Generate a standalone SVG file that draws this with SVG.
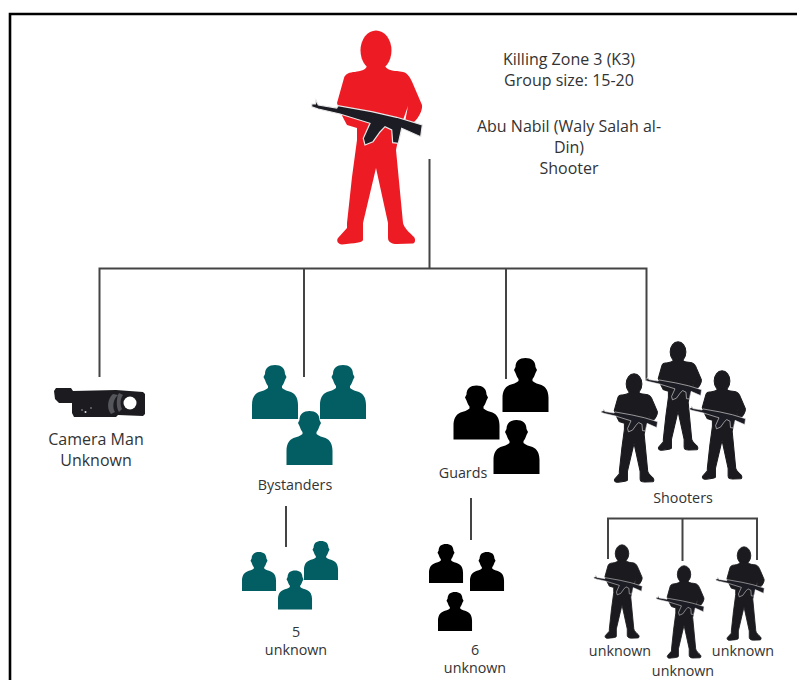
<svg xmlns="http://www.w3.org/2000/svg" xmlns:xlink="http://www.w3.org/1999/xlink" width="797" height="680" viewBox="0 0 797 680">
<style>
.t{font-family:"Open Sans","Noto Sans","Liberation Sans",sans-serif;fill:#333;stroke:none;text-anchor:middle}
.f14{font-size:16px}
.f13{font-size:14.300px}
.c{fill:none;stroke:#444;stroke-width:2}
.teal{fill:#025e63}
.blk{fill:#000}
.dark{fill:#1b1b1f;stroke:#1b1b1f;stroke-width:2}
.gun{fill:#1c1c24;stroke:#e8e8e8;stroke-width:1.200}
</style>
<defs>
<path id="bust" d="M23 0C29 0 33 3 33 9L34.500 12L33 15C32 18 31 20 30 21L30 23C32 25 36 26 39 27C44 29 46 34 46 40L46 54L0 54L0 40C0 34 2 29 7 27C10 26 14 25 16 23L16 21C15 20 14 18 13 15L11.500 12L13 9C13 3 17 0 23 0Z"/>
<g id="rifleman">
<ellipse cx="376" cy="50.500" rx="15.500" ry="20"/>
<path d="M367 66L385 66C386 69 392 71 397 71L403 72C408 73 411 79 413 84L422 105C423 110 418 119 414 122L405 122L408 106L403 120L400 130L396 150L403 223C404 228 410 233 414 237C416 240 415 243 413 243.500L397 244C392 244 388 242 388 238L388 223L376 168L363 223L363 240C362 243 355 243 342 244.500C338 244 336 241 338 238L347 228L347 223L352 177L357 140L357 128L347 125C343 118 339 110 337 103L344 78C345 74 350 72 355 72C360 71 366 70 367 66Z"/>
<path class="gun" d="M311.700 104L315.500 104L316 100L318.300 105L336.700 108L338 105.700L371.700 111.700L396.700 117.300L422.300 125L420.700 136.700L401.700 128.300L398.300 143.300L392.700 142.700L391.700 130L385 126.700L380 132L373 141.700L365 145L363.300 138.300L370 123.300L340 114L318.300 109L311.700 106.700Z"/>
</g>
</defs>
<rect width="797" height="680" fill="#fff"/>
<path d="M10 680V14H797" fill="none" stroke="#000" stroke-width="2.600"/>
<g id="connectors">
<path class="c" d="M429.500 159V268.500M99.500 377V268.500H646.500V380M304 268.500V377M506 268.500V379"/>
<path class="c" d="M286 506V547M471 498V540"/>
<path class="c" d="M608 559V518.500H757V560M682.500 518.500V561"/>
</g>
<g id="leader">
<use xlink:href="#rifleman" href="#rifleman" fill="#ed1c24"/>
</g>
<g id="leader-label">
<text class="t f14" x="569" y="65">Killing Zone 3 (K3)</text>
<text class="t f14" x="569" y="86">Group size: 15-20</text>
<text class="t f14" x="569" y="132">Abu Nabil (Waly Salah al-</text>
<text class="t f14" x="569" y="153">Din)</text>
<text class="t f14" x="569" y="174">Shooter</text>
</g>
<g id="camera-man">
<path fill="#1c1c20" d="M56 388H71L73 391L116 390L143 392L145 394V414L143 416L118 415L116 417L74 417L72 413V403L59 403L55 399L54 391Z"/>
<circle cx="130" cy="403" r="6.500" fill="#fff"/>
<path fill="#55555c" d="M113 394C108 398 106 408 111 414L115 412C112 408 113 399 118 395ZM119 393C116 398 116 408 119 412L122 409C120 405 120 399 123 395Z"/>
<circle cx="82" cy="410" r="0.800" fill="#aaa"/><circle cx="85.500" cy="412" r="1" fill="#ddd"/><circle cx="91" cy="408" r="0.800" fill="#aaa"/>
<text class="t f14" x="96" y="445">Camera Man</text>
<text class="t f14" x="96" y="466">Unknown</text>
</g>
<g id="bystanders" class="teal">
<use xlink:href="#bust" href="#bust" x="252" y="365"/>
<use xlink:href="#bust" href="#bust" x="320" y="365"/>
<use xlink:href="#bust" href="#bust" x="286.500" y="411"/>
<text class="t f13" x="295" y="490">Bystanders</text>
</g>
<g id="guards" class="blk">
<use xlink:href="#bust" href="#bust" x="453.500" y="385.500"/>
<use xlink:href="#bust" href="#bust" x="502.500" y="358"/>
<use xlink:href="#bust" href="#bust" x="493.500" y="420"/>
<text class="t f13" x="463" y="478">Guards</text>
</g>
<g id="shooters" class="dark">
<use xlink:href="#rifleman" href="#rifleman" transform="translate(487.400 326.300) scale(.507)"/>
<use xlink:href="#rifleman" href="#rifleman" transform="translate(443.400 358.300) scale(.507)"/>
<use xlink:href="#rifleman" href="#rifleman" transform="translate(531.400 355.300) scale(.507)"/>
<text class="t f13" x="683" y="503">Shooters</text>
</g>
<g id="bystanders-unknown" class="teal">
<use xlink:href="#bust" href="#bust" transform="translate(242 552) scale(.74 .72)"/>
<use xlink:href="#bust" href="#bust" transform="translate(304 541) scale(.74 .72)"/>
<use xlink:href="#bust" href="#bust" transform="translate(278 570.500) scale(.74 .72)"/>
<text class="t f13" x="296" y="637">5</text>
<text class="t f13" x="296" y="655">unknown</text>
</g>
<g id="guards-unknown" class="blk">
<use xlink:href="#bust" href="#bust" transform="translate(429 544) scale(.74 .72)"/>
<use xlink:href="#bust" href="#bust" transform="translate(470 552) scale(.74 .72)"/>
<use xlink:href="#bust" href="#bust" transform="translate(438 592) scale(.74 .72)"/>
<text class="t f13" x="475" y="655">6</text>
<text class="t f13" x="475" y="673">unknown</text>
</g>
<g id="shooter-unknown-1" class="dark">
<use xlink:href="#rifleman" href="#rifleman" transform="translate(457.700 531.500) scale(.437)"/>
<text class="t f13" x="620" y="656">unknown</text>
</g>
<g id="shooter-unknown-2" class="dark">
<use xlink:href="#rifleman" href="#rifleman" transform="translate(521.600 552.600) scale(.432)"/>
<text class="t f13" x="683" y="676">unknown</text>
</g>
<g id="shooter-unknown-3" class="dark">
<use xlink:href="#rifleman" href="#rifleman" transform="translate(579.700 533.500) scale(.437)"/>
<text class="t f13" x="743" y="656">unknown</text>
</g>
</svg>
